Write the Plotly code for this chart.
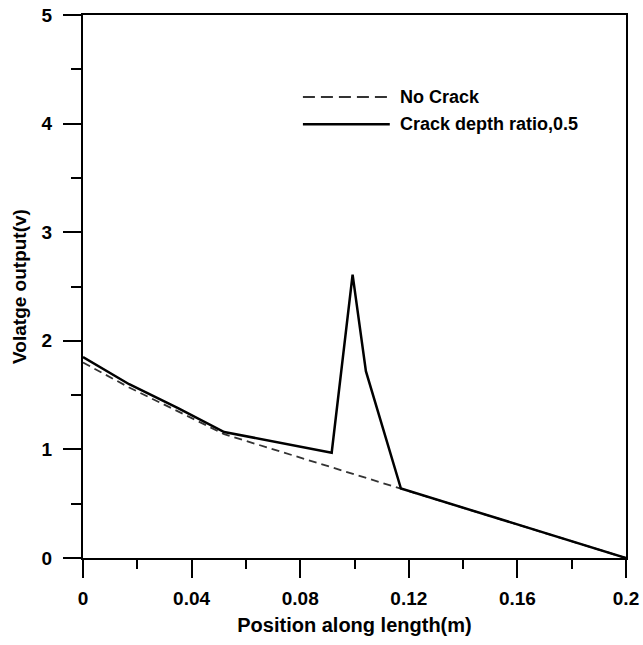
import plotly.graph_objects as go

# Data
x_nocrack = [0.0, 0.017, 0.035, 0.052, 0.2]
y_nocrack = [1.80, 1.57, 1.35, 1.14, 0.0]

x_crack = [0.0, 0.017, 0.035, 0.052, 0.0916, 0.0993, 0.1042, 0.1171, 0.2]
y_crack = [1.85, 1.60, 1.38, 1.16, 0.97, 2.61, 1.72, 0.64, 0.0]

x_ticks = [0, 0.04, 0.08, 0.12, 0.16, 0.2]
x_ticklabels = ["0", "0.04", "0.08", "0.12", "0.16", "0.2"]
y_ticks = [0, 1, 2, 3, 4, 5]

legend_names = ["No Crack", "Crack depth ratio,0.5"]

FONT = "Liberation Sans, Arial, sans-serif"

fig = go.Figure()
fig.add_trace(go.Scatter(x=x_nocrack, y=y_nocrack, mode="lines",
                         line=dict(color="#333333", width=1.8, dash="8px,5px"),
                         name=legend_names[0], showlegend=False))
fig.add_trace(go.Scatter(x=x_crack, y=y_crack, mode="lines",
                         line=dict(color="black", width=2.5),
                         name=legend_names[1], showlegend=False))

# Manual legend (paper coordinates)
leg_x0, leg_x1 = 0.405, 0.565
leg_y = [0.849, 0.799]
styles = [dict(color="#333333", width=2, dash="12px,6px"), dict(color="black", width=2.5)]
for i, name in enumerate(legend_names):
    fig.add_shape(type="line", xref="paper", yref="paper", x0=leg_x0, x1=leg_x1,
                  y0=leg_y[i], y1=leg_y[i], line=styles[i])
    fig.add_annotation(xref="paper", yref="paper", x=0.584, y=leg_y[i], text="<b>%s</b>" % name,
                       showarrow=False, xanchor="left", yanchor="middle", xshift=-2,
                       font=dict(family=FONT, size=18, color="black"))

axis_common = dict(showline=True, linecolor="black", linewidth=2, mirror=True,
                   ticks="outside", ticklen=18, tickwidth=2, tickcolor="black",
                   showgrid=False, zeroline=False, automargin=False,
                   tickfont=dict(family=FONT, size=19, color="black"))

fig.update_xaxes(range=[0, 0.2], tickvals=x_ticks,
                 ticktext=["<b>%s</b>" % t for t in x_ticklabels],
                 minor=dict(dtick=0.02, tick0=0, ticks="outside", ticklen=9, tickwidth=2, tickcolor="black"),
                 title=dict(text="<b>Position along length(m)</b>", font=dict(family=FONT, size=20, color="black"), standoff=10),
                 ticklabelstandoff=4,
                 **axis_common)
fig.update_yaxes(range=[0, 5], tickvals=y_ticks,
                 ticktext=["<b>%d</b>" % t for t in y_ticks],
                 minor=dict(dtick=0.5, tick0=0, ticks="outside", ticklen=10, tickwidth=2, tickcolor="black"),
                 title=dict(text="<b>Volatge output(v)</b>", font=dict(family=FONT, size=19, color="black"), standoff=10),
                 ticklabelstandoff=7,
                 **axis_common)

fig.update_layout(width=643, height=645, paper_bgcolor="white", plot_bgcolor="white",
                  margin=dict(l=83, r=17, t=15, b=87), showlegend=False)

fig.write_html("out.html")
